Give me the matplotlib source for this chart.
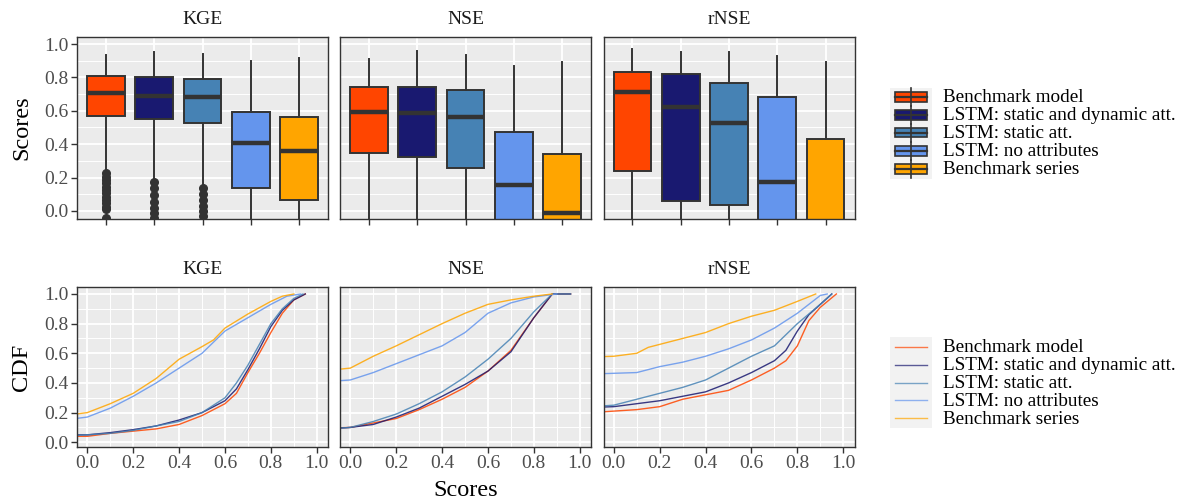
import matplotlib
matplotlib.use("Agg")
import matplotlib.pyplot as plt
from matplotlib.patches import Rectangle
from matplotlib.lines import Line2D
from matplotlib.ticker import MultipleLocator

plt.rcParams["font.family"] = ["Liberation Serif", "DejaVu Serif"]

metrics = ["KGE", "NSE", "rNSE"]
models = ["Benchmark model", "LSTM: static and dynamic att.", "LSTM: static att.",
          "LSTM: no attributes", "Benchmark series"]
colors = ["#FF4500", "#191970", "#4682B4", "#6495ED", "#FFA500"]

# box statistics per metric (values below the panel are clipped by the axes)
box_whishi = {
    "KGE": [0.934, 0.950, 0.938, 0.898, 0.914],
    "NSE": [0.910, 0.958, 0.934, 0.868, 0.894],
    "rNSE": [0.968, 0.950, 0.954, 0.930, 0.894],
}
box_q3 = {
    "KGE": [0.808, 0.800, 0.789, 0.591, 0.565],
    "NSE": [0.741, 0.741, 0.725, 0.475, 0.339],
    "rNSE": [0.834, 0.820, 0.765, 0.685, 0.429],
}
box_med = {
    "KGE": [0.705, 0.690, 0.685, 0.405, 0.359],
    "NSE": [0.591, 0.585, 0.561, 0.156, -0.014],
    "rNSE": [0.714, 0.621, 0.525, 0.172, -0.200],
}
box_q1 = {
    "KGE": [0.571, 0.551, 0.529, 0.136, 0.066],
    "NSE": [0.345, 0.321, 0.256, -0.200, -0.500],
    "rNSE": [0.241, 0.058, 0.036, -0.300, -0.800],
}
box_whislo = {
    "KGE": [0.225, 0.180, 0.140, -0.250, -0.400],
    "NSE": [-0.300, -0.400, -0.600, -1.000, -1.500],
    "rNSE": [-0.500, -0.500, -0.500, -1.000, -2.000],
}
box_fliers = {
    "KGE": [
        [0.225, 0.205, 0.185, 0.165, 0.145, 0.125, 0.105, 0.085, 0.065, 0.045, 0.025, 0.010, -0.042],
        [0.175, 0.135, 0.095, 0.055, 0.020, -0.010, -0.040],
        [0.135, 0.100, 0.065, 0.030, 0.000, -0.030],
        [], [],
    ],
    "NSE": [[], [], [], [], []],
    "rNSE": [[], [], [], [], []],
}

# empirical CDF curves: (scores, cumulative fraction)
cdf_curves = {
    "KGE": {
        "Benchmark model": ([-0.1, 0.0, 0.1, 0.2, 0.3, 0.4, 0.5, 0.6, 0.65, 0.7, 0.75, 0.8, 0.85, 0.9, 0.95],
                            [0.04, 0.04, 0.06, 0.075, 0.09, 0.12, 0.18, 0.26, 0.33, 0.47, 0.60, 0.74, 0.87, 0.96, 1.0]),
        "LSTM: static and dynamic att.": ([-0.1, 0.0, 0.1, 0.2, 0.3, 0.4, 0.5, 0.6, 0.65, 0.7, 0.75, 0.8, 0.85, 0.9, 0.95],
                                          [0.05, 0.05, 0.065, 0.085, 0.11, 0.15, 0.20, 0.28, 0.36, 0.49, 0.63, 0.78, 0.89, 0.96, 1.0]),
        "LSTM: static att.": ([-0.1, 0.0, 0.1, 0.2, 0.3, 0.4, 0.5, 0.6, 0.65, 0.7, 0.75, 0.8, 0.85, 0.9, 0.94],
                              [0.045, 0.05, 0.06, 0.08, 0.11, 0.14, 0.20, 0.30, 0.40, 0.52, 0.66, 0.80, 0.90, 0.97, 1.0]),
        "LSTM: no attributes": ([-0.1, 0.0, 0.1, 0.2, 0.3, 0.4, 0.5, 0.6, 0.7, 0.8, 0.87, 0.93],
                                [0.15, 0.17, 0.23, 0.31, 0.40, 0.50, 0.60, 0.75, 0.84, 0.93, 0.985, 1.0]),
        "Benchmark series": ([-0.1, 0.0, 0.1, 0.2, 0.3, 0.4, 0.5, 0.55, 0.6, 0.7, 0.8, 0.85, 0.9],
                             [0.18, 0.20, 0.26, 0.33, 0.43, 0.56, 0.645, 0.69, 0.77, 0.865, 0.95, 0.985, 1.0]),
    },
    "NSE": {
        "Benchmark model": ([-0.1, 0.0, 0.1, 0.2, 0.3, 0.4, 0.5, 0.6, 0.7, 0.8, 0.88, 0.96],
                            [0.095, 0.10, 0.13, 0.16, 0.22, 0.29, 0.37, 0.48, 0.62, 0.84, 1.0, 1.0]),
        "LSTM: static and dynamic att.": ([-0.1, 0.0, 0.1, 0.2, 0.3, 0.4, 0.5, 0.6, 0.7, 0.8, 0.88, 0.96],
                                          [0.09, 0.10, 0.12, 0.17, 0.23, 0.31, 0.39, 0.48, 0.61, 0.84, 1.0, 1.0]),
        "LSTM: static att.": ([-0.1, 0.0, 0.1, 0.2, 0.3, 0.4, 0.5, 0.6, 0.7, 0.8, 0.88, 0.96],
                              [0.09, 0.10, 0.14, 0.19, 0.26, 0.34, 0.44, 0.56, 0.70, 0.88, 1.0, 1.0]),
        "LSTM: no attributes": ([-0.1, 0.0, 0.1, 0.2, 0.3, 0.4, 0.5, 0.6, 0.7, 0.8, 0.9],
                                [0.41, 0.42, 0.47, 0.53, 0.59, 0.65, 0.74, 0.87, 0.94, 0.98, 1.0]),
        "Benchmark series": ([-0.1, 0.0, 0.1, 0.2, 0.3, 0.4, 0.5, 0.6, 0.7, 0.8, 0.88],
                             [0.485, 0.50, 0.58, 0.65, 0.725, 0.80, 0.87, 0.93, 0.96, 0.985, 1.0]),
    },
    "rNSE": {
        "Benchmark model": ([-0.1, 0.0, 0.1, 0.2, 0.3, 0.4, 0.5, 0.6, 0.7, 0.75, 0.8, 0.85, 0.9, 0.97],
                            [0.20, 0.21, 0.22, 0.24, 0.29, 0.32, 0.35, 0.42, 0.50, 0.55, 0.65, 0.82, 0.91, 1.0]),
        "LSTM: static and dynamic att.": ([-0.1, 0.0, 0.1, 0.2, 0.3, 0.4, 0.5, 0.6, 0.7, 0.75, 0.8, 0.85, 0.9, 0.95],
                                          [0.235, 0.24, 0.26, 0.28, 0.31, 0.34, 0.40, 0.47, 0.55, 0.62, 0.75, 0.86, 0.93, 1.0]),
        "LSTM: static att.": ([-0.1, 0.0, 0.1, 0.2, 0.3, 0.4, 0.5, 0.6, 0.7, 0.8, 0.9, 0.95],
                              [0.24, 0.25, 0.29, 0.33, 0.37, 0.42, 0.50, 0.58, 0.65, 0.80, 0.93, 1.0]),
        "LSTM: no attributes": ([-0.1, 0.0, 0.1, 0.15, 0.2, 0.3, 0.4, 0.5, 0.6, 0.7, 0.8, 0.85, 0.9, 0.93],
                                [0.46, 0.465, 0.47, 0.49, 0.51, 0.54, 0.58, 0.63, 0.69, 0.77, 0.87, 0.93, 0.99, 1.0]),
        "Benchmark series": ([-0.1, 0.0, 0.1, 0.15, 0.2, 0.3, 0.4, 0.5, 0.6, 0.7, 0.8, 0.88],
                             [0.575, 0.58, 0.60, 0.64, 0.66, 0.70, 0.74, 0.80, 0.85, 0.89, 0.95, 1.0]),
    },
}

W, H = 1190, 504
PANEL_BG = "#EBEBEB"
DARK = "#333333"
TICK_TXT = "#4D4D4D"


def fx(px):
    return px / W


def fy(py):
    return 1 - py / H


def style_panel(ax):
    ax.set_facecolor(PANEL_BG)
    for s in ax.spines.values():
        s.set_color(DARK)
        s.set_linewidth(1.0)
    ax.grid(which="major", color="white", linewidth=1.3)
    ax.grid(which="minor", color="white", linewidth=0.7)
    ax.set_axisbelow(True)
    ax.tick_params(which="major", length=4, width=1, color=DARK,
                   labelcolor=TICK_TXT, labelsize=14, pad=2)
    ax.tick_params(which="minor", length=0)


fig = plt.figure(figsize=(W / 100, H / 100), dpi=100)

lefts = [77, 340, 603.5]
top_axes, bot_axes = [], []
for i, m in enumerate(metrics):
    axt = fig.add_axes([fx(lefts[i]), fy(219), 251 / W, 182 / H])
    axb = fig.add_axes([fx(lefts[i]), fy(446.7), 251 / W, 159.4 / H])
    top_axes.append(axt)
    bot_axes.append(axb)

# boxplots
positions = list(range(1, len(models) + 1))
for i, m in enumerate(metrics):
    ax = top_axes[i]
    style_panel(ax)
    stats = []
    for j, name in enumerate(models):
        stats.append(dict(label=name, whishi=box_whishi[m][j], q3=box_q3[m][j],
                          med=box_med[m][j], q1=box_q1[m][j],
                          whislo=box_whislo[m][j], fliers=box_fliers[m][j]))
    bp = ax.bxp(stats, positions=positions, widths=0.78, patch_artist=True,
                showcaps=False,
                boxprops=dict(edgecolor=DARK, linewidth=1.4),
                medianprops=dict(color=DARK, linewidth=3.2, solid_capstyle="butt"),
                whiskerprops=dict(color=DARK, linewidth=1.4),
                flierprops=dict(marker="o", markerfacecolor=DARK, markeredgecolor=DARK,
                                markersize=5.5))
    for patch, c in zip(bp["boxes"], colors):
        patch.set_facecolor(c)
    ax.set_xlim(0.4, 5.6)
    ax.set_ylim(-0.048, 1.042)
    ax.set_xticks(positions)
    ax.set_xticklabels([])
    ax.yaxis.set_major_locator(MultipleLocator(0.2))
    ax.yaxis.set_minor_locator(MultipleLocator(0.1))
    ax.grid(which="minor", axis="x", visible=False)
    if i == 0:
        ax.set_yticklabels([f"{v:.1f}" for v in ax.get_yticks()])
        ax.set_yticks([0, 0.2, 0.4, 0.6, 0.8, 1.0])
        ax.set_yticklabels(["0.0", "0.2", "0.4", "0.6", "0.8", "1.0"])
    else:
        ax.tick_params(axis="y", which="major", length=0)
        ax.set_yticklabels([])
    c = ax.get_position()
    fig.text((c.x0 + c.x1) / 2, fy(19), m, ha="center", va="center", fontsize=14, color="#1A1A1A")

# CDF curves
for i, m in enumerate(metrics):
    ax = bot_axes[i]
    style_panel(ax)
    for name, c in zip(models, colors):
        xs, ys = cdf_curves[m][name]
        ax.plot(xs, ys, color=c, linewidth=1.0, alpha=0.85)
    ax.set_xlim(-0.045, 1.049)
    ax.set_ylim(-0.03, 1.045)
    ax.set_xticks([0, 0.2, 0.4, 0.6, 0.8, 1.0])
    ax.set_xticklabels(["0.0", "0.2", "0.4", "0.6", "0.8", "1.0"])
    ax.set_yticks([0, 0.2, 0.4, 0.6, 0.8, 1.0])
    ax.xaxis.set_minor_locator(MultipleLocator(0.1))
    ax.yaxis.set_minor_locator(MultipleLocator(0.1))
    if i == 0:
        ax.set_yticklabels(["0.0", "0.2", "0.4", "0.6", "0.8", "1.0"])
    else:
        ax.tick_params(axis="y", which="major", length=0)
        ax.set_yticklabels([])
    c = ax.get_position()
    fig.text((c.x0 + c.x1) / 2, fy(270), m, ha="center", va="center", fontsize=14, color="#1A1A1A")

fig.text(fx(22), fy(128), "Scores", rotation=90, ha="center", va="center", fontsize=17.5)
fig.text(fx(22), fy(367), "CDF", rotation=90, ha="center", va="center", fontsize=17.5)
fig.text(fx(465.5), fy(490), "Scores", ha="center", va="center", fontsize=17.5)

# legends drawn in figure pixels
key_x0, key_x1, text_x = 895, 927, 943
top_rows = [97, 115, 133, 151, 169]
bot_rows = [347, 365, 383, 400, 418]

fig.add_artist(Rectangle((fx(890), fy(179)), (932 - 890) / W, 91 / H,
                         transform=fig.transFigure, facecolor="#F2F2F2", edgecolor="none"))
fig.add_artist(Rectangle((fx(890), fy(428)), (932 - 890) / W, 91 / H,
                         transform=fig.transFigure, facecolor="#F2F2F2", edgecolor="none"))

for row, name, c in zip(top_rows, models, colors):
    xm = (key_x0 + key_x1) / 2
    fig.add_artist(Line2D([fx(xm), fx(xm)], [fy(row - 9), fy(row + 9)],
                          transform=fig.transFigure, color=DARK, linewidth=1.2))
    fig.add_artist(Rectangle((fx(key_x0), fy(row + 4.5)), (key_x1 - key_x0) / W, 9 / H,
                             transform=fig.transFigure, facecolor=c, edgecolor=DARK, linewidth=1.2))
    fig.add_artist(Line2D([fx(key_x0), fx(key_x1)], [fy(row), fy(row)],
                          transform=fig.transFigure, color=DARK, linewidth=1.6))
    fig.text(fx(text_x), fy(row + 1), name, ha="left", va="center", fontsize=13.75)

for row, name, c in zip(bot_rows, models, colors):
    fig.add_artist(Line2D([fx(key_x0), fx(key_x1)], [fy(row), fy(row)],
                          transform=fig.transFigure, color=c, linewidth=1.0, alpha=0.7))
    fig.text(fx(text_x), fy(row + 1), name, ha="left", va="center", fontsize=13.75)

fig.savefig("out.png", dpi=100)
